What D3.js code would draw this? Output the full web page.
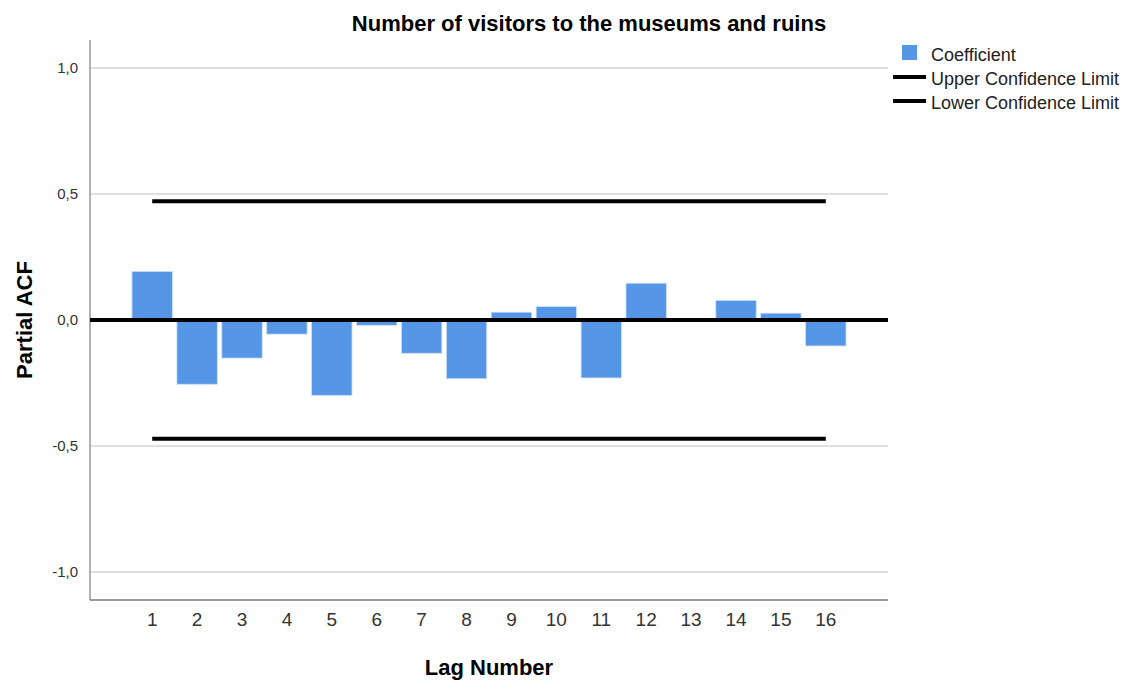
<!DOCTYPE html>
<html>
<head>
<meta charset="utf-8">
<script src="https://cdn.jsdelivr.net/npm/d3@7"></script>
<style>
  html, body { margin: 0; padding: 0; background: #fff; }
  svg { display: block; font-family: "Liberation Sans", Arial, sans-serif; }
</style>
</head>
<body>
<svg id="chart" width="1128" height="681"></svg>
<script>
// Partial autocorrelation of monthly visitor counts
const lags = [1, 2, 3, 4, 5, 6, 7, 8, 9, 10, 11, 12, 13, 14, 15, 16];
const coefficients = [0.193, -0.255, -0.151, -0.056, -0.299, -0.021, -0.132, -0.233,
                      0.031, 0.053, -0.230, 0.146, 0.000, 0.078, 0.027, -0.103];
const upperLimit = [0.471, 0.471, 0.471, 0.471, 0.471, 0.471, 0.471, 0.471,
                    0.471, 0.471, 0.471, 0.471, 0.471, 0.471, 0.471, 0.471];
const lowerLimit = [-0.471, -0.471, -0.471, -0.471, -0.471, -0.471, -0.471, -0.471,
                    -0.471, -0.471, -0.471, -0.471, -0.471, -0.471, -0.471, -0.471];
const yTicks = [-1.0, -0.5, 0.0, 0.5, 1.0];
const legendItems = ["Coefficient", "Upper Confidence Limit", "Lower Confidence Limit"];

const svg = d3.select("#chart");
const plot = { left: 90, right: 888, top: 40, bottom: 600 };

const x = d3.scaleBand()
  .domain(lags)
  .range([plot.left, plot.right])
  .paddingInner(0.1)
  .paddingOuter(0.935);

const y = d3.scaleLinear()
  .domain([-1.111, 1.111])
  .range([plot.bottom, plot.top]);

const fmt = d => d3.format(".1f")(d).replace(".", ",").replace("−", "-");

// gridlines
svg.append("g")
  .selectAll("line")
  .data(yTicks.filter(d => d !== 0))
  .join("line")
  .attr("x1", plot.left).attr("x2", plot.right)
  .attr("y1", d => y(d)).attr("y2", d => y(d))
  .attr("stroke", "#d4d4d4").attr("stroke-width", 1.5);

// y axis
const yAxis = svg.append("g")
  .attr("transform", `translate(${plot.left},0)`)
  .call(d3.axisLeft(y).tickValues(yTicks).tickFormat(fmt).tickSize(0).tickPadding(12));
yAxis.select(".domain").attr("stroke", "#9a9a9a").attr("stroke-width", 1.5)
  .attr("d", `M0,${plot.top}V${plot.bottom}`);
yAxis.selectAll("text").attr("font-size", 15).attr("fill", "#333")
  .attr("font-family", "Liberation Sans, Arial, sans-serif");

// x axis
const xAxis = svg.append("g")
  .attr("transform", `translate(0,${plot.bottom})`)
  .call(d3.axisBottom(x).tickSize(0).tickPadding(13));
xAxis.select(".domain").attr("stroke", "#7a7a7a").attr("stroke-width", 1.5)
  .attr("d", `M${plot.left},0H${plot.right}`);
xAxis.selectAll("text").attr("font-size", 19).attr("fill", "#333")
  .attr("font-family", "Liberation Sans, Arial, sans-serif");

// bars
const barColor = "#5596e6";
svg.append("g")
  .selectAll("rect")
  .data(lags.map((l, i) => ({ lag: l, value: coefficients[i] })))
  .join("rect")
  .attr("x", d => x(d.lag))
  .attr("width", x.bandwidth())
  .attr("y", d => y(Math.max(0, d.value)))
  .attr("height", d => Math.abs(y(d.value) - y(0)))
  .attr("fill", barColor)
  .attr("stroke", "#cfe0f7").attr("stroke-width", 0.8);

// zero reference line
svg.append("line")
  .attr("x1", plot.left).attr("x2", plot.right)
  .attr("y1", y(0)).attr("y2", y(0))
  .attr("stroke", "#000").attr("stroke-width", 4);

// confidence limits
const cx = l => x(l) + x.bandwidth() / 2;
const limitLine = d3.line().x(d => cx(d[0])).y(d => y(d[1]));
[upperLimit, lowerLimit].forEach(lim => {
  svg.append("path")
    .attr("d", limitLine(lags.map((l, i) => [l, lim[i]])))
    .attr("fill", "none").attr("stroke", "#000").attr("stroke-width", 4);
});

// titles
svg.append("text")
  .attr("x", 589).attr("y", 31)
  .attr("text-anchor", "middle")
  .attr("font-size", 22).attr("font-weight", "bold").attr("fill", "#000")
  .text("Number of visitors to the museums and ruins");

svg.append("text")
  .attr("x", (plot.left + plot.right) / 2).attr("y", 675)
  .attr("text-anchor", "middle")
  .attr("font-size", 22).attr("font-weight", "bold").attr("fill", "#000")
  .text("Lag Number");

svg.append("text")
  .attr("transform", `translate(32,${y(0)}) rotate(-90)`)
  .attr("text-anchor", "middle")
  .attr("font-size", 22).attr("font-weight", "bold").attr("fill", "#000")
  .text("Partial ACF");

// legend
const legend = svg.append("g").attr("font-size", 18).attr("fill", "#222");
legend.append("rect")
  .attr("x", 902).attr("y", 45).attr("width", 15).attr("height", 15)
  .attr("fill", barColor);
[77, 101].forEach(ly => {
  legend.append("line")
    .attr("x1", 893).attr("x2", 926).attr("y1", ly).attr("y2", ly)
    .attr("stroke", "#000").attr("stroke-width", 4);
});
legend.selectAll("text")
  .data(legendItems)
  .join("text")
  .attr("x", 931)
  .attr("y", (d, i) => 61 + i * 24)
  .text(d => d);
</script>
</body>
</html>
